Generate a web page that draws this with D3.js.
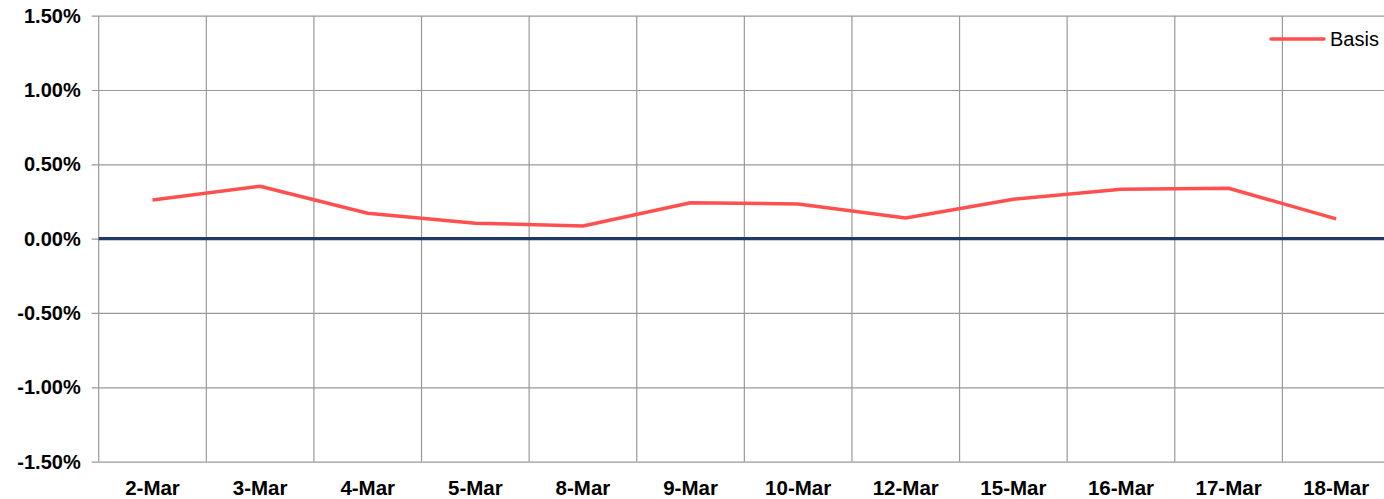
<!DOCTYPE html>
<html><head><meta charset="utf-8">
<script src="https://cdn.jsdelivr.net/npm/d3@7"></script>
<style>body{margin:0;background:#fff}svg{display:block}</style>
</head><body>
<svg id="c" width="1384" height="499"></svg>
<script>
const categories = ["2-Mar","3-Mar","4-Mar","5-Mar","8-Mar","9-Mar","10-Mar","12-Mar","15-Mar","16-Mar","17-Mar","18-Mar"];
const basis = [0.0026,0.00353,0.00171,0.00104,0.00085,0.00242,0.00233,0.00139,0.00265,0.00332,0.00339,0.00133];
const yTicks = [-0.015,-0.01,-0.005,0,0.005,0.01,0.015];
const seriesName = "Basis";

(function(){
const svg = d3.select("#c");
const pL = 98.7, pR = 1390, pT = 15.7, pB = 461.6;
const x = d3.scaleBand().domain(categories).range([pL, pR]);
const y = d3.scaleLinear().domain([-0.015, 0.015]).range([pB, pT]);
const fmt = d => d3.format(".2%")(d).replace("\u2212","-");
const font = "'Liberation Sans', Arial, sans-serif";

// horizontal grid + ticks
const gy = svg.append("g").attr("transform", `translate(${pL},0)`)
  .call(d3.axisLeft(y).tickValues(yTicks).tickFormat(fmt).tickSize(-(pR-pL)).tickSizeOuter(0));
gy.select(".domain").remove();
gy.selectAll(".tick line").attr("stroke","#999").attr("stroke-width",1.2).attr("x1",-7);
gy.selectAll(".tick text").attr("font-family",font).attr("font-weight","bold").attr("font-size",20).attr("fill","#000").attr("x",-18);

// vertical grid
const xEdges = categories.map(c => x(c)).concat([pR]);
svg.append("g").selectAll("line").data(xEdges).join("line")
  .attr("x1",d=>d).attr("x2",d=>d).attr("y1",pT).attr("y2",pB)
  .attr("stroke","#999").attr("stroke-width",1.2);

// x labels
const gx = svg.append("g").attr("transform", `translate(0,${pB})`)
  .call(d3.axisBottom(x).tickSize(0).tickPadding(19));
gx.select(".domain").remove();
gx.selectAll(".tick text").attr("font-family",font).attr("font-weight","bold").attr("font-size",20.5).attr("fill","#000");

// zero line
svg.append("line").attr("x1",pL).attr("x2",pR).attr("y1",y(0)).attr("y2",y(0))
  .attr("stroke","#1f3864").attr("stroke-width",3.2);

// series
const line = d3.line().x((d,i)=>x(categories[i])+x.bandwidth()/2).y(d=>y(d));
svg.append("path").datum(basis).attr("d",line).attr("fill","none")
  .attr("stroke","#ff5050").attr("stroke-width",3.5).attr("stroke-linejoin","round");

// legend
const lg = svg.append("g");
lg.append("line").attr("x1",1271).attr("x2",1324).attr("y1",39).attr("y2",39)
  .attr("stroke","#ff5050").attr("stroke-width",3.5).attr("stroke-linecap","round");
lg.append("text").attr("x",1330).attr("y",39).attr("dy","0.35em").text(seriesName)
  .attr("font-family",font).attr("font-size",20).attr("fill","#000");
})();
</script>
</body></html>
